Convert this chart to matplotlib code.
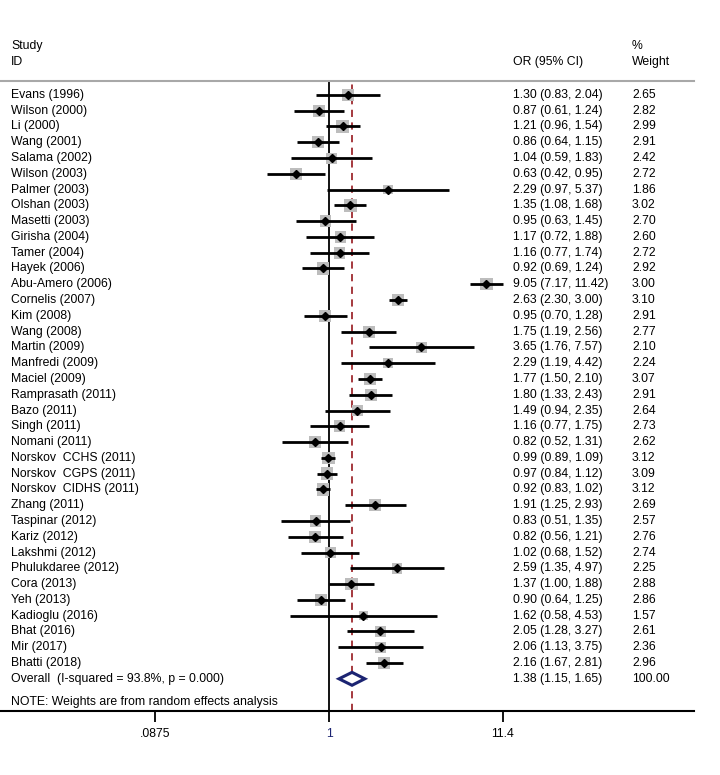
import matplotlib.pyplot as plt
import matplotlib.transforms as mtransforms
import numpy as np

plt.rcParams['font.family'] = ['Liberation Sans', 'DejaVu Sans']

# Study data
studies = ['Evans (1996)', 'Wilson (2000)', 'Li (2000)', 'Wang (2001)', 'Salama (2002)',
           'Wilson (2003)', 'Palmer (2003)', 'Olshan (2003)', 'Masetti (2003)', 'Girisha (2004)',
           'Tamer (2004)', 'Hayek (2006)', 'Abu-Amero (2006)', 'Cornelis (2007)', 'Kim (2008)',
           'Wang (2008)', 'Martin (2009)', 'Manfredi (2009)', 'Maciel (2009)', 'Ramprasath (2011)',
           'Bazo (2011)', 'Singh (2011)', 'Nomani (2011)', 'Norskov  CCHS (2011)',
           'Norskov  CGPS (2011)', 'Norskov  CIDHS (2011)', 'Zhang (2011)', 'Taspinar (2012)',
           'Kariz (2012)', 'Lakshmi (2012)', 'Phulukdaree (2012)', 'Cora (2013)', 'Yeh (2013)',
           'Kadioglu (2016)', 'Bhat (2016)', 'Mir (2017)', 'Bhatti (2018)']
odds = np.array([1.30, 0.87, 1.21, 0.86, 1.04, 0.63, 2.29, 1.35, 0.95, 1.17, 1.16, 0.92, 9.05,
                 2.63, 0.95, 1.75, 3.65, 2.29, 1.77, 1.80, 1.49, 1.16, 0.82, 0.99, 0.97, 0.92,
                 1.91, 0.83, 0.82, 1.02, 2.59, 1.37, 0.90, 1.62, 2.05, 2.06, 2.16])
lower = np.array([0.83, 0.61, 0.96, 0.64, 0.59, 0.42, 0.97, 1.08, 0.63, 0.72, 0.77, 0.69, 7.17,
                  2.30, 0.70, 1.19, 1.76, 1.19, 1.50, 1.33, 0.94, 0.77, 0.52, 0.89, 0.84, 0.83,
                  1.25, 0.51, 0.56, 0.68, 1.35, 1.00, 0.64, 0.58, 1.28, 1.13, 1.67])
upper = np.array([2.04, 1.24, 1.54, 1.15, 1.83, 0.95, 5.37, 1.68, 1.45, 1.88, 1.74, 1.24, 11.42,
                  3.00, 1.28, 2.56, 7.57, 4.42, 2.10, 2.43, 2.35, 1.75, 1.31, 1.09, 1.12, 1.02,
                  2.93, 1.35, 1.21, 1.52, 4.97, 1.88, 1.25, 4.53, 3.27, 3.75, 2.81])
weights = np.array([2.65, 2.82, 2.99, 2.91, 2.42, 2.72, 1.86, 3.02, 2.70, 2.60, 2.72, 2.92, 3.00,
                    3.10, 2.91, 2.77, 2.10, 2.24, 3.07, 2.91, 2.64, 2.73, 2.62, 3.12, 3.09, 3.12,
                    2.69, 2.57, 2.76, 2.74, 2.25, 2.88, 2.86, 1.57, 2.61, 2.36, 2.96])

overall_label = 'Overall  (I-squared = 93.8%, p = 0.000)'
overall_or, overall_lo, overall_hi = 1.38, 1.15, 1.65
overall_weight = '100.00'

xticks = [0.0875, 1, 11.4]
xticklabels = ['.0875', '1', '11.4']

fig = plt.figure(figsize=(7.2, 7.75), dpi=100)
ax = fig.add_axes([0, 64 / 775, 694 / 720, 630 / 775])
ax.set_xscale('log')
ax.set_xlim(0.01, 10 ** ((694 - 329) / 164.5))
ax.set_ylim(39.04, -0.88)

rows = np.arange(len(studies))
n = len(studies)

# reference lines
ax.axvline(1, color='black', lw=1.3, zorder=1)
ax.axvline(overall_or, color='#9e2a2f', lw=1.3, ls=(0, (4, 3)), ymax=0.997, zorder=1)

# squares (area ~ weight), CI lines, point estimates
ax.scatter(odds, rows, marker='s', s=(np.sqrt(weights) * 5.1) ** 2, color='#bdbdbd', zorder=2,
           linewidths=0)
ax.hlines(rows, lower, upper, color='black', lw=2, zorder=3)
ax.plot(odds, rows, 'D', color='black', ms=3.8, zorder=4)

# overall diamond
ov = n
ax.fill([overall_lo, overall_or, overall_hi, overall_or, overall_lo],
        [ov, ov - 0.41, ov, ov + 0.41, ov], facecolor='white', edgecolor='#1c2472',
        lw=2.2, zorder=4)

# spines / ticks
for s in ['left', 'right']:
    ax.spines[s].set_visible(False)
ax.spines['top'].set_color('#a8a8a8')
ax.spines['top'].set_linewidth(1.5)
ax.spines['bottom'].set_linewidth(1.5)
ax.set_yticks([])
ax.set_xticks(xticks)
ax.set_xticklabels(xticklabels, fontsize=8.8)
ax.get_xticklabels()[1].set_color('#1c2472')
ax.minorticks_off()
ax.tick_params(axis='x', length=8, width=1.3, pad=4)

# text columns (figure-x, data-y)
trans = mtransforms.blended_transform_factory(fig.transFigure, ax.transData)
fs = 8.8
x_name, x_or, x_w = 11 / 720, 513 / 720, 632 / 720

for i, name in enumerate(studies):
    ax.text(x_name, i, name, transform=trans, fontsize=fs, va='center', clip_on=False)
    ax.text(x_or, i, f'{odds[i]:.2f} ({lower[i]:.2f}, {upper[i]:.2f})', transform=trans,
            fontsize=fs, va='center', clip_on=False)
    ax.text(x_w, i, f'{weights[i]:.2f}', transform=trans, fontsize=fs, va='center', clip_on=False)

ax.text(x_name, ov, overall_label, transform=trans, fontsize=fs, va='center', clip_on=False)
ax.text(x_or, ov, f'{overall_or:.2f} ({overall_lo:.2f}, {overall_hi:.2f})', transform=trans,
        fontsize=fs, va='center', clip_on=False)
ax.text(x_w, ov, overall_weight, transform=trans, fontsize=fs, va='center', clip_on=False)
ax.text(x_name, ov + 1.5, 'NOTE: Weights are from random effects analysis', transform=trans,
        fontsize=fs, va='center', clip_on=False)

# headers
fig.text(x_name, 1 - 46 / 775, 'Study', fontsize=fs, va='center')
fig.text(x_name, 1 - 62 / 775, 'ID', fontsize=fs, va='center')
fig.text(x_or, 1 - 62 / 775, 'OR (95% CI)', fontsize=fs, va='center')
fig.text(x_w, 1 - 46 / 775, '%', fontsize=fs, va='center')
fig.text(x_w, 1 - 62 / 775, 'Weight', fontsize=fs, va='center')

fig.savefig('out.png', dpi=100)
